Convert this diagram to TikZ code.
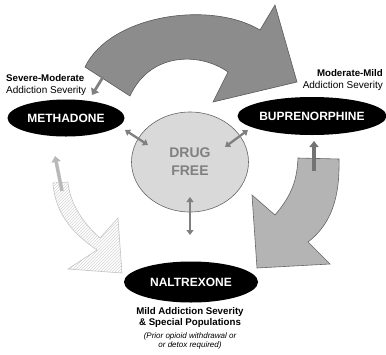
\documentclass[tikz,border=0pt]{standalone}
\usepackage{fontspec}
\setmainfont{Liberation Sans}
\usetikzlibrary{arrows.meta,shapes.geometric,patterns}
\definecolor{bigarrow}{HTML}{8C8C8C}
\definecolor{rightarrow}{HTML}{B4B4B4}
\definecolor{circfill}{HTML}{D9D9D9}
\definecolor{hatch}{HTML}{C4C4C4}
\definecolor{hatchline}{HTML}{D4D4D4}
\definecolor{dblarrow}{HTML}{808080}
\tikzset{
  drug/.style={ellipse, fill=black, inner sep=0pt, text=white, font=\fontsize{12}{12}\selectfont\bfseries},
  dbl/.style={draw=dblarrow, line width=2.3pt, {Triangle[length=5pt,width=7pt]}-{Triangle[length=5pt,width=7pt]}},
  single/.style={line width=3.5pt, -{Triangle[length=6pt,width=9pt]}},
  lab/.style={inner sep=0pt, font=\fontsize{9.7}{11.5}\selectfont}
}
\begin{document}
\begin{tikzpicture}[x=1pt,y=-1pt]
\useasboundingbox (0,0) rectangle (386,354);
% big top arrow
\draw[fill=bigarrow, draw=black!65, line width=0.6pt]
  (85,67) .. controls (110,15) and (210,0) .. (260,30)
  -- (275,5) -- (297,82) -- (213,102) -- (228,72)
  .. controls (200,52) and (150,52) .. (130,96) -- cycle;
% right arrow
\draw[fill=rightarrow, draw=black!60, line width=0.6pt]
  (298,158) -- (339,159) .. controls (340,200) and (330,225) .. (308,242)
  -- (330,264) -- (257,268) -- (252,195) -- (275,215)
  .. controls (292,195) and (297,180) .. (298,158) -- cycle;
% left hatched arrow
\draw[draw=hatch, line width=0.6pt, pattern=north east lines, pattern color=hatchline]
  (53,183) -- (68,182) .. controls (70,205) and (85,225) .. (100,238)
  -- (118,218) -- (122,273) -- (68,269) -- (97,250)
  .. controls (75,235) and (55,215) .. (53,183) -- cycle;
% drug free circle
\node[ellipse, draw=black!60, fill=circfill, line width=0.6pt, minimum width=117pt, minimum height=100pt, inner sep=0pt,
      text=dblarrow, font=\fontsize{14}{18}\selectfont\bfseries, align=center] (free) at (190,162) {DRUG\\FREE};
% drug nodes
\node[drug, minimum width=117pt, minimum height=37pt] (meth) at (66,118) {METHADONE};
\node[drug, minimum width=129pt, minimum height=38pt] (bup) at (312,116) {BUPRENORPHINE};
\node[drug, minimum width=134pt, minimum height=41pt] (nal) at (191,282) {NALTREXONE};
% labels
\node[lab, anchor=west, align=left] (sevlab) at (6,85) {\textbf{Severe-Moderate}\\\fontsize{10}{11.5}\selectfont Addiction Severity};
\node[lab, anchor=east, align=right] (modlab) at (383,80) {\textbf{Moderate-Mild}\\\fontsize{10}{11.5}\selectfont Addiction Severity};
\node[lab, anchor=north, align=center] (mildlab) at (190,307) {\textbf{Mild Addiction Severity}\\\textbf{\& Special Populations}};
\node[inner sep=0pt, anchor=north, align=center, font=\fontsize{8}{9.5}\selectfont\itshape] (prior) at (190,332) {(Prior opioid withdrawal or\\or detox required)};
% double arrows
\coordinate (m1) at (125,130); \coordinate (m2) at (148,145);
\coordinate (b1) at (248,130); \coordinate (b2) at (225,147);
\coordinate (n1) at (190,197); \coordinate (n2) at (190,235);
\draw[dbl] (m1) -- (m2);
\draw[dbl] (b1) -- (b2);
\draw[dbl] (n1) -- (n2);
% single arrows
\coordinate (s1) at (103,77); \coordinate (s2) at (92,95);
\coordinate (r1) at (314,171); \coordinate (r2) at (314,141);
\coordinate (l1) at (62,191); \coordinate (l2) at (55,156);
\draw[single, draw=dblarrow, fill=dblarrow, line width=2.8pt] (s1) -- (s2);
\draw[single, draw=black!55, line width=3.2pt] (r1) -- (r2);
\draw[single, draw=black!28, line width=3.5pt] (l1) -- (l2);
\end{tikzpicture}
\end{document}
